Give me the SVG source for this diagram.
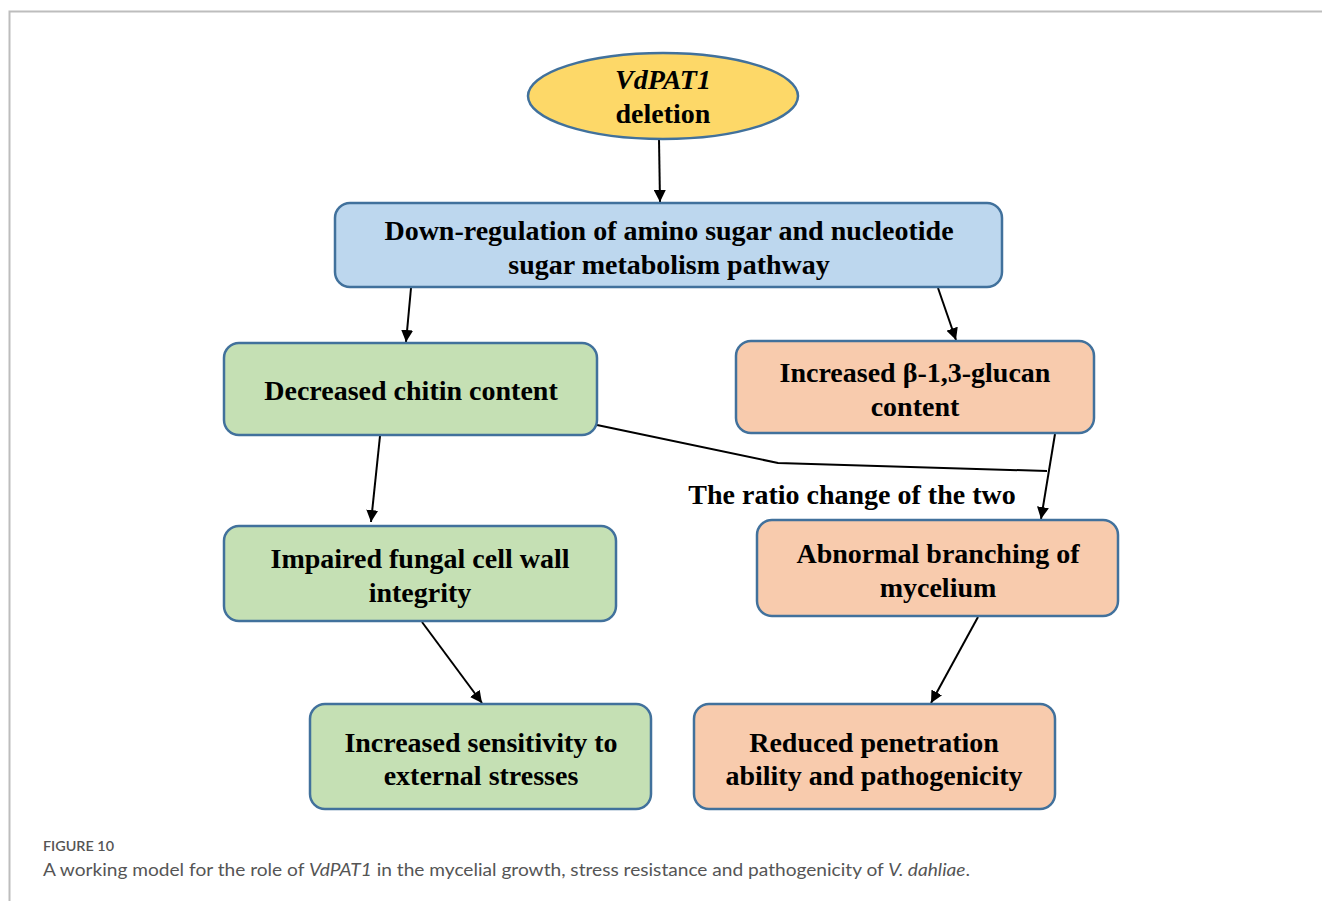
<svg xmlns="http://www.w3.org/2000/svg" width="1322" height="901" viewBox="0 0 1322 901">
<defs>
<style>
.t{font-family:"Liberation Serif","Times New Roman",serif;font-weight:bold;font-size:28px;fill:#000;text-anchor:middle}
.b{stroke:#41719C;stroke-width:2.5}
.g{fill:#C5E0B4}
.o{fill:#F8CBAD}
.c{stroke:#000;stroke-width:2;fill:none}
.cap{font-family:Lato,"Open Sans",sans-serif;fill:#555}
</style>
<marker id="ah" viewBox="0 0 10 10" refX="10" refY="5" markerWidth="6" markerHeight="6" orient="auto" markerUnits="strokeWidth">
<path d="M0,0 L10,5 L0,10 z" fill="#000"/>
</marker>
</defs>
<rect width="1322" height="901" fill="#fff"/>
<path d="M9.5,901 V11.5 H1322" fill="none" stroke="#bdbdbd" stroke-width="2"/>

<g id="connectors">
<line class="c" x1="659" y1="139" x2="660" y2="202" marker-end="url(#ah)"/>
<line class="c" x1="411" y1="288" x2="406" y2="342" marker-end="url(#ah)"/>
<line class="c" x1="938" y1="288" x2="956" y2="340" marker-end="url(#ah)"/>
<line class="c" x1="380" y1="436" x2="371" y2="522" marker-end="url(#ah)"/>
<polyline class="c" points="597,425 778,463 1047,471" stroke-width="2.5"/>
<line class="c" x1="1055" y1="434" x2="1041" y2="519" marker-end="url(#ah)"/>
<line class="c" x1="422" y1="622" x2="482" y2="703" marker-end="url(#ah)"/>
<line class="c" x1="978" y1="617" x2="931" y2="703" marker-end="url(#ah)"/>
<text class="t" x="852" y="504" font-size="27">The ratio change of the two</text>
</g>

<g id="n-deletion">
<ellipse class="b" cx="663" cy="96" rx="135" ry="43" fill="#FDD868"/>
<text class="t" x="663" y="89" font-style="italic">VdPAT1</text>
<text class="t" x="663" y="123">deletion</text>
</g>

<g id="n-downreg">
<rect class="b" x="335" y="203" width="667" height="84" rx="15" fill="#BDD7EE"/>
<text class="t" x="669" y="240">Down-regulation of amino sugar and nucleotide</text>
<text class="t" x="669" y="274">sugar metabolism pathway</text>
</g>

<g id="n-chitin">
<rect class="b g" x="224" y="343" width="373" height="92" rx="15"/>
<text class="t" x="411" y="400">Decreased chitin content</text>
</g>

<g id="n-glucan">
<rect class="b o" x="736" y="341" width="358" height="92" rx="15"/>
<text class="t" x="915" y="382">Increased β-1,3-glucan</text>
<text class="t" x="915" y="416">content</text>
</g>

<g id="n-wall">
<rect class="b g" x="224" y="526" width="392" height="95" rx="15"/>
<text class="t" x="420" y="568">Impaired fungal cell wall</text>
<text class="t" x="420" y="602">integrity</text>
</g>

<g id="n-branching">
<rect class="b o" x="757" y="520" width="361" height="96" rx="15"/>
<text class="t" x="938" y="563">Abnormal branching of</text>
<text class="t" x="938" y="597">mycelium</text>
</g>

<g id="n-sensitivity">
<rect class="b g" x="310" y="704" width="341" height="105" rx="15"/>
<text class="t" x="481" y="752">Increased sensitivity to</text>
<text class="t" x="481" y="785">external stresses</text>
</g>

<g id="n-penetration">
<rect class="b o" x="694" y="704" width="361" height="105" rx="15"/>
<text class="t" x="874" y="752">Reduced penetration</text>
<text class="t" x="874" y="785">ability and pathogenicity</text>
</g>

<text class="cap" x="43" y="851" font-size="13" font-weight="600" textLength="71" lengthAdjust="spacingAndGlyphs">FIGURE 10</text>
<text class="cap" x="43" y="876" font-size="17" fill="#666" textLength="927" lengthAdjust="spacingAndGlyphs">A working model for the role of <tspan font-style="italic">VdPAT1</tspan> in the mycelial growth, stress resistance and pathogenicity of <tspan font-style="italic">V. dahliae</tspan>.</text>
</svg>
